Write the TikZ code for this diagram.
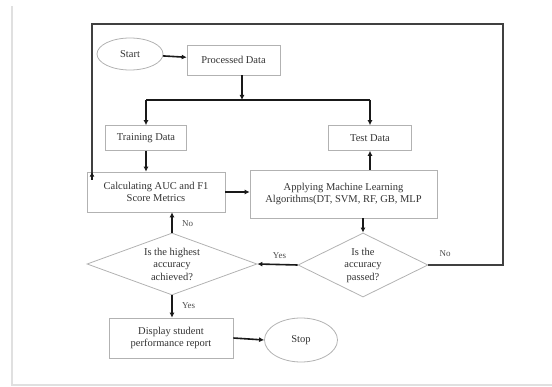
\documentclass[tikz,border=0pt]{standalone}
\usepackage{fontspec}
\setmainfont{Liberation Serif}
\usetikzlibrary{shapes.geometric,arrows.meta}
\begin{document}
\begin{tikzpicture}[x=1pt,y=-1pt,
  every node/.style={font=\fontsize{10.5}{12.5}\selectfont, text=black!80},
  boxnode/.style={draw=black!30, line width=0.6pt, rectangle, inner sep=0pt, align=center},
  ovalnode/.style={draw=black!30, line width=0.8pt, ellipse, inner sep=0pt},
  decnode/.style={draw=black!30, line width=0.8pt, diamond, aspect=2.7, inner sep=0pt, align=center},
  arr/.style={line width=1.6pt, draw=black!90, -{Latex[length=5pt,width=5pt]}},
  loopline/.style={line width=2.4pt, draw=black!75},
  lbl/.style={font=\fontsize{9}{10}\selectfont, text=black!70}
]
\useasboundingbox (0,0) rectangle (552,387);
% faint screenshot frame
\draw[black!12, line width=1.5pt] (12,6) -- (12,385) -- (552,385);

\node[ovalnode, minimum width=66, minimum height=32] (start) at (130,54) {Start};
\node[boxnode, minimum width=93, minimum height=30] (proc) at (233.5,60) {Processed Data};
\node[boxnode, minimum width=81, minimum height=25] (train) at (146,138) {Training Data};
\node[boxnode, minimum width=83, minimum height=25] (test) at (370,138) {Test Data};
\node[boxnode, minimum width=138, minimum height=40] (calc) at (156,192) {Calculating AUC and F1\\Score Metrics};
\node[boxnode, minimum width=187, minimum height=48] (apply) at (343.5,194) {Applying Machine Learning\\Algorithms(DT, SVM, RF, GB, MLP};
\node[decnode, minimum width=170, minimum height=62] (hi) at (172,264) {};
\node[align=center] (hitext) at (172,264) {Is the highest\\accuracy\\achieved?};
\node[decnode, minimum width=130, minimum height=64] (acc) at (363,265) {};
\node[align=center] (acctext) at (363,265) {Is the\\accuracy\\passed?};
\node[boxnode, minimum width=124, minimum height=40] (disp) at (171,338) {Display student\\performance report};
\node[ovalnode, minimum width=73, minimum height=44] (stop) at (301,340) {Stop};

\coordinate (j) at (242,100);
\coordinate (jl) at (146,100);
\coordinate (jr) at (370,100);
\coordinate (tr) at (503,265);
\coordinate (tl) at (503,24);
\coordinate (ul) at (92,24);

\draw[arr] (start) -- (proc);
\draw[arr] (proc.south -| j) -- (j);
\draw[line width=1.6pt, black!90] (jl) -- (jr);
\draw[arr] (jl) -- (train.north);
\draw[arr] (jr) -- (test.north);
\draw[arr] (train.south) -- (calc.north -| train.south);
\draw[arr] (calc.east) -- (calc.east -| apply.west);
\draw[arr] (apply.north -| test.south) -- (test.south);
\draw[arr] (apply.south -| acc.north) -- (acc.north);
\draw[arr] (acc.west) -- (hi.east) node[lbl, pos=0.45, above=2pt] {Yes};
\draw[arr] (hi.north) -- (calc.south -| hi.north) node[lbl, pos=0.45, right=6pt] {No};
\draw[arr] (hi.south) -- (disp.north -| hi.south) node[lbl, pos=0.45, right=6pt] {Yes};
\draw[arr] (disp.east) -- (stop.west);
\draw[loopline] (acc.east) -- (tr) -- (tl) -- (ul) -- ([yshift=-6pt]ul |- calc.north);
\draw[arr] ([yshift=-8pt]ul |- calc.north) -- (ul |- calc.north);
\node[lbl] (nolbl) at (445,254) {No};
\end{tikzpicture}
\end{document}
